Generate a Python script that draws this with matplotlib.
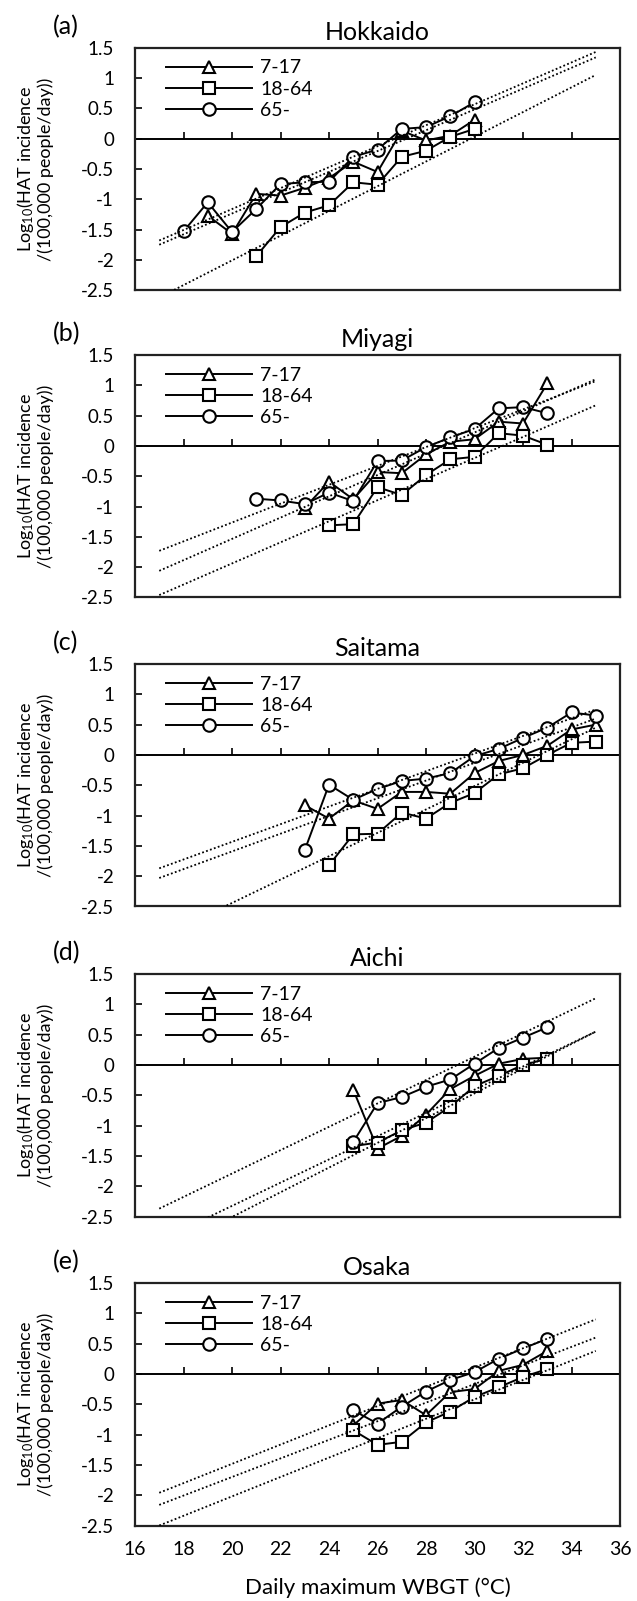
import matplotlib.pyplot as plt
import numpy as np

plt.rcParams['font.family'] = ['Lato', 'DejaVu Sans']
plt.rcParams['mathtext.default'] = 'regular'
plt.rcParams['axes.unicode_minus'] = False

prefs = ['Hokkaido', 'Miyagi', 'Saitama', 'Aichi', 'Osaka']
panel_tags = ['(a)', '(b)', '(c)', '(d)', '(e)']
groups = ['7-17', '18-64', '65-']

# WBGT (x) and log10 incidence (y) per prefecture and age group
hok_x717 = [19, 20, 21, 22, 23, 24, 25, 26, 27, 28, 29, 30]
hok_y717 = [-1.27, -1.57, -0.91, -0.94, -0.81, -0.65, -0.38, -0.55, 0.13, -0.03, 0.05, 0.31]
hok_x1864 = [21, 22, 23, 24, 25, 26, 27, 28, 29, 30]
hok_y1864 = [-1.94, -1.46, -1.22, -1.10, -0.72, -0.76, -0.30, -0.20, 0.03, 0.16]
hok_x65 = [18, 19, 20, 21, 22, 23, 24, 25, 26, 27, 28, 29, 30]
hok_y65 = [-1.53, -1.05, -1.54, -1.16, -0.75, -0.72, -0.71, -0.30, -0.18, 0.16, 0.19, 0.37, 0.60]

miy_x717 = [23, 24, 25, 26, 27, 28, 29, 30, 31, 32, 33]
miy_y717 = [-1.02, -0.59, -0.88, -0.43, -0.45, -0.14, 0.07, 0.11, 0.40, 0.37, 1.03]
miy_x1864 = [24, 25, 26, 27, 28, 29, 30, 31, 32, 33]
miy_y1864 = [-1.31, -1.29, -0.68, -0.81, -0.48, -0.22, -0.18, 0.21, 0.17, 0.02]
miy_x65 = [21, 22, 23, 24, 25, 26, 27, 28, 29, 30, 31, 32, 33]
miy_y65 = [-0.87, -0.90, -0.96, -0.77, -0.91, -0.25, -0.24, -0.02, 0.14, 0.28, 0.62, 0.64, 0.54]

sai_x717 = [23, 24, 25, 26, 27, 28, 29, 30, 31, 32, 33, 34, 35]
sai_y717 = [-0.83, -1.05, -0.75, -0.89, -0.61, -0.61, -0.64, -0.30, -0.10, 0.00, 0.15, 0.42, 0.50]
sai_x1864 = [24, 25, 26, 27, 28, 29, 30, 31, 32, 33, 34, 35]
sai_y1864 = [-1.82, -1.31, -1.30, -0.95, -1.05, -0.79, -0.63, -0.32, -0.22, 0.00, 0.20, 0.22]
sai_x65 = [23, 24, 25, 26, 27, 28, 29, 30, 31, 32, 33, 34, 35]
sai_y65 = [-1.57, -0.49, -0.74, -0.56, -0.43, -0.39, -0.30, -0.02, 0.10, 0.28, 0.45, 0.70, 0.65]

aic_x717 = [25, 26, 27, 28, 29, 30, 31, 32, 33]
aic_y717 = [-0.41, -1.38, -1.17, -0.82, -0.40, -0.18, 0.02, 0.10, 0.12]
aic_x1864 = [25, 26, 27, 28, 29, 30, 31, 32, 33]
aic_y1864 = [-1.34, -1.28, -1.08, -0.95, -0.69, -0.35, -0.18, 0.00, 0.10]
aic_x65 = [25, 26, 27, 28, 29, 30, 31, 32, 33]
aic_y65 = [-1.27, -0.63, -0.53, -0.36, -0.24, 0.02, 0.28, 0.45, 0.62]

osa_x717 = [25, 26, 27, 28, 29, 30, 31, 32, 33]
osa_y717 = [-0.85, -0.49, -0.43, -0.68, -0.30, -0.25, 0.05, 0.15, 0.38]
osa_x1864 = [25, 26, 27, 28, 29, 30, 31, 32, 33]
osa_y1864 = [-0.93, -1.17, -1.12, -0.80, -0.62, -0.38, -0.22, -0.05, 0.08]
osa_x65 = [25, 26, 27, 28, 29, 30, 31, 32, 33]
osa_y65 = [-0.60, -0.82, -0.54, -0.29, -0.10, 0.03, 0.25, 0.42, 0.58]

# linear trend lines, value at x=17 and x=35 (7-17, 18-64, 65-)
trend_x = [17, 35]
hok_trend = [[-1.75, 1.34], [-2.62, 1.05], [-1.68, 1.43]]
miy_trend = [[-2.06, 1.10], [-2.46, 0.67], [-1.73, 1.07]]
sai_trend = [[-2.03, 0.60], [-3.02, 0.45], [-1.87, 0.75]]
aic_trend = [[-2.90, 0.55], [-3.12, 0.55], [-2.37, 1.10]]
osa_trend = [[-2.16, 0.60], [-2.50, 0.38], [-1.96, 0.90]]

series = [
    [(hok_x717, hok_y717), (hok_x1864, hok_y1864), (hok_x65, hok_y65)],
    [(miy_x717, miy_y717), (miy_x1864, miy_y1864), (miy_x65, miy_y65)],
    [(sai_x717, sai_y717), (sai_x1864, sai_y1864), (sai_x65, sai_y65)],
    [(aic_x717, aic_y717), (aic_x1864, aic_y1864), (aic_x65, aic_y65)],
    [(osa_x717, osa_y717), (osa_x1864, osa_y1864), (osa_x65, osa_y65)],
]
trends = [hok_trend, miy_trend, sai_trend, aic_trend, osa_trend]

xticks = np.arange(16, 37, 2)
yticks = np.arange(-2.5, 1.51, 0.5)
markers = ['^', 's', 'o']
msizes = [9, 8.2, 9]

W, H = 637, 1601
fig = plt.figure(figsize=(W / 100, H / 100), dpi=100)

ax_left, ax_w, ax_h = 135, 485, 242.5
tops = [47.7, 355, 664, 974, 1283]

for i, name in enumerate(prefs):
    top = tops[i]
    ax = fig.add_axes([ax_left / W, 1 - (top + ax_h) / H, ax_w / W, ax_h / H])

    for k in range(3):
        xs, ys = series[i][k]
        ax.plot(xs, ys, '-', color='black', lw=1.4, marker=markers[k],
                ms=msizes[k], mfc='white', mec='black', mew=1.5,
                label=groups[k], zorder=3 + k)
    for k in range(3):
        ax.plot(trend_x, trends[i][k], ls=(0, (1, 1.3)), color='black',
                lw=1.3, zorder=7)

    ax.set_xlim(16, 36)
    ax.set_ylim(-2.5, 1.5)
    ax.set_yticks(yticks)
    ax.set_yticklabels(['%g' % v for v in yticks])
    ax.set_xticks(xticks)
    ax.tick_params(axis='y', direction='in', length=5, width=1.2,
                   labelsize=13.5, pad=15)
    ax.tick_params(axis='x', length=0, labelsize=14, pad=11)
    if i < 4:
        ax.tick_params(axis='x', labelbottom=False)
    for sp in ax.spines.values():
        sp.set_linewidth(1.6)
        sp.set_color('#222222')

    # horizontal axis drawn through y = 0, ticks pointing up
    zero_ax = ax.secondary_xaxis(0, transform=ax.transData)
    zero_ax.set_xticks(xticks)
    zero_ax.tick_params(direction='in', length=4.8, width=1.2,
                        labelbottom=False)
    zero_ax.spines['bottom'].set_linewidth(1.4)

    ax.legend(loc='upper left', bbox_to_anchor=(0.04, 1.0), frameon=False,
              handlelength=4.4, handletextpad=0.45, labelspacing=0.22,
              fontsize=14, borderaxespad=0.2)

    ax.text(0.5, 1 + 8 / ax_h, name, transform=ax.transAxes,
            ha='center', va='baseline', fontsize=18)
    fig.text(53 / W, 1 - (top - 21) / H, panel_tags[i], ha='left',
             va='center', fontsize=18)
    ax.set_ylabel('Log$_{10}$(HAT incidence\n/(100,000 people/day))',
                  fontsize=13, linespacing=1.05)
    ax.yaxis.set_label_coords(-0.168, 0.5)

fig.text((ax_left + ax_w / 2) / W, 1 - 1588 / H, 'Daily maximum WBGT (\u00b0C)',
         ha='center', va='center', fontsize=16)

fig.savefig('out.png', dpi=100)
